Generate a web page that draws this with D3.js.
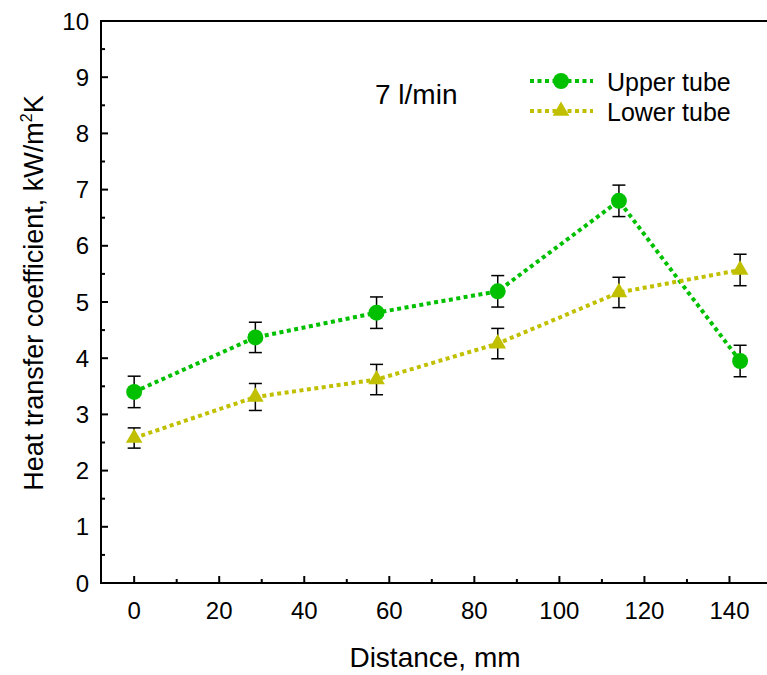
<!DOCTYPE html>
<html lang="en">
<head>
<meta charset="UTF-8">
<title>Heat transfer coefficient</title>
<script src="https://d3js.org/d3.v7.min.js"></script>
<style>
  body, html { margin: 0; background: #fff; overflow: hidden; }
  text { font-family: "Liberation Sans", Arial, sans-serif; fill: #000; }
  .series-line { fill: none; stroke-width: 4; stroke-dasharray: 4 3.5; }
</style>
</head>
<body>
<script>
// data
const distance = [0, 28.5, 57, 85.5, 114, 142.5];
const upperTube = [3.40, 4.37, 4.81, 5.19, 6.80, 3.95];
const upperErr  = [0.28, 0.27, 0.28, 0.28, 0.28, 0.28];
const lowerTube = [2.58, 3.31, 3.62, 4.26, 5.17, 5.57];
const lowerErr  = [0.18, 0.24, 0.27, 0.27, 0.27, 0.28];
const xTicks = [0, 20, 40, 60, 80, 100, 120, 140];
const yTicks = [0, 1, 2, 3, 4, 5, 6, 7, 8, 9, 10];

const width = 767, height = 675;
const plotL = 101, plotT = 21, plotB = 583, plotR = 772;

const svg = d3.select('body').append('svg')
    .attr('width', width)
    .attr('height', height);

const x = d3.scaleLinear().domain([-7.8, 150]).range([plotL, plotR]);
const y = d3.scaleLinear().domain([0, 10]).range([plotB, plotT]);

// frame
svg.append('rect')
    .attr('x', plotL).attr('y', plotT)
    .attr('width', plotR - plotL).attr('height', plotB - plotT)
    .attr('fill', 'none').attr('stroke', '#000').attr('stroke-width', 2);

// y axis ticks (inward)
const yMinor = d3.range(0.5, 10, 1);
svg.append('g').selectAll('line').data(yTicks).enter().append('line')
    .attr('x1', plotL).attr('x2', plotL + 7)
    .attr('y1', d => y(d)).attr('y2', d => y(d))
    .attr('stroke', '#000').attr('stroke-width', 2);
svg.append('g').selectAll('line').data(yMinor).enter().append('line')
    .attr('x1', plotL).attr('x2', plotL + 4)
    .attr('y1', d => y(d)).attr('y2', d => y(d))
    .attr('stroke', '#000').attr('stroke-width', 2);
svg.append('g').selectAll('text').data(yTicks).enter().append('text')
    .attr('x', plotL - 12).attr('y', d => y(d) + 8.5)
    .attr('text-anchor', 'end')
    .style('font-size', '24px')
    .text(d => d);

// x axis ticks (inward)
const xMinor = d3.range(10, 150, 20);
svg.append('g').selectAll('line').data(xTicks).enter().append('line')
    .attr('x1', d => x(d)).attr('x2', d => x(d))
    .attr('y1', plotB).attr('y2', plotB - 7)
    .attr('stroke', '#000').attr('stroke-width', 2);
svg.append('g').selectAll('line').data(xMinor).enter().append('line')
    .attr('x1', d => x(d)).attr('x2', d => x(d))
    .attr('y1', plotB).attr('y2', plotB - 4)
    .attr('stroke', '#000').attr('stroke-width', 2);
svg.append('g').selectAll('text').data(xTicks).enter().append('text')
    .attr('x', d => x(d)).attr('y', plotB + 36)
    .attr('text-anchor', 'middle')
    .style('font-size', '24px')
    .text(d => d);

// axis titles
svg.append('text')
    .attr('x', 435).attr('y', 667)
    .attr('text-anchor', 'middle')
    .style('font-size', '28px')
    .text('Distance, mm');

const yl = svg.append('text')
    .attr('transform', 'translate(43, 293) rotate(-90)')
    .attr('text-anchor', 'middle')
    .style('font-size', '27px');
yl.append('tspan').text('Heat transfer coefficient, kW/m');
yl.append('tspan').attr('dy', -11).style('font-size', '16px').text('2');
yl.append('tspan').attr('dy', 11).text('K');

// annotation
svg.append('text')
    .attr('x', 375).attr('y', 104)
    .style('font-size', '28px')
    .text('7 l/min');

const series = [
  { name: 'Upper tube', values: upperTube, err: upperErr, color: '#00c000', marker: 'circle' },
  { name: 'Lower tube', values: lowerTube, err: lowerErr, color: '#c0c000', marker: 'triangle' }
];

const line = d3.line().x(d => x(d[0])).y(d => y(d[1]));
const circleSym = d3.symbol().type(d3.symbolCircle).size(200);
const triSym = d3.symbol().type(d3.symbolTriangle).size(120);

function drawMarker(g, s, cx, cy) {
  g.append('path')
      .attr('d', s.marker === 'circle' ? circleSym() : triSym())
      .attr('transform', `translate(${cx},${cy})`)
      .attr('fill', s.color);
}

series.forEach(s => {
  const pts = distance.map((d, i) => [d, s.values[i]]);
  svg.append('path')
      .attr('class', 'series-line')
      .attr('stroke', s.color)
      .attr('d', line(pts));

  const g = svg.append('g');
  pts.forEach((p, i) => {
    const cx = x(p[0]);
    const y1 = y(p[1] + s.err[i]), y2 = y(p[1] - s.err[i]);
    g.append('line').attr('x1', cx).attr('x2', cx).attr('y1', y1).attr('y2', y2)
        .attr('stroke', '#000').attr('stroke-width', 1.5);
    [y1, y2].forEach(yy => g.append('line')
        .attr('x1', cx - 6.5).attr('x2', cx + 6.5).attr('y1', yy).attr('y2', yy)
        .attr('stroke', '#000').attr('stroke-width', 1.5));
    drawMarker(g, s, cx, y(p[1]));
  });
});

// legend
series.forEach((s, i) => {
  const ly = 81 + i * 30;
  svg.append('line')
      .attr('class', 'series-line')
      .attr('x1', 530).attr('x2', 593).attr('y1', ly).attr('y2', ly)
      .attr('stroke', s.color);
  drawMarker(svg, s, 561, ly);
  svg.append('text')
      .attr('x', 607).attr('y', ly + 10)
      .style('font-size', '25px')
      .text(s.name);
});
</script>
</body>
</html>
